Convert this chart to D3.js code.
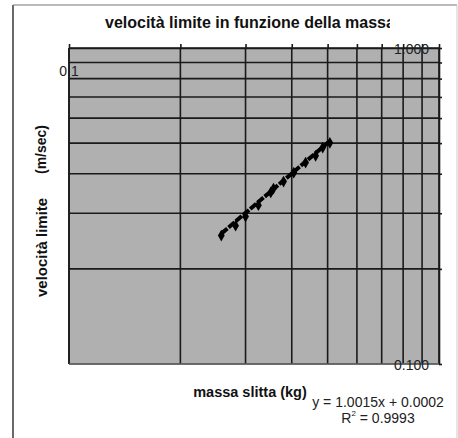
<!DOCTYPE html>
<html>
<head>
<meta charset="utf-8">
<script src="https://cdn.jsdelivr.net/npm/d3@7"></script>
<style>
  html, body { margin: 0; padding: 0; background: #fff; }
  svg { display: block; font-family: "Liberation Sans", Arial, sans-serif; }
</style>
</head>
<body>
<svg id="chart" width="458" height="438"></svg>
<script>
// Measured sled runs: mass (kg) and terminal velocity (m/sec)
const masses     = [0.258, 0.282, 0.300, 0.325, 0.351, 0.357, 0.380, 0.405, 0.436, 0.464, 0.485, 0.507];
const velocities = [0.255, 0.274, 0.293, 0.318, 0.349, 0.359, 0.378, 0.403, 0.434, 0.456, 0.484, 0.501];

// Linear trendline coefficients
const slope = 1.0015, intercept = 0.0002, r2 = 0.9993;

// Axis grid values (one decade each) and their labels
const gridValues = [0.1, 0.2, 0.3, 0.4, 0.5, 0.6, 0.7, 0.8, 0.9, 1.0];
const xTickLabels = [{ v: 0.1, t: "0.1" }];
const yTickLabels = [{ v: 1.0, t: "1.000" }, { v: 0.1, t: "0.100" }];

const svg = d3.select("#chart");

// outer chart frame
svg.append("line").attr("x1", 13).attr("x2", 13).attr("y1", 5).attr("y2", 438)
  .attr("stroke", "#444").attr("stroke-width", 1.6);
svg.append("line").attr("x1", 13).attr("x2", 457).attr("y1", 5).attr("y2", 5)
  .attr("stroke", "#777").attr("stroke-width", 1.2);
svg.append("line").attr("x1", 457).attr("x2", 457).attr("y1", 5).attr("y2", 438)
  .attr("stroke", "#d4d4d4").attr("stroke-width", 1.2);

const plotL = 69, plotR = 439, plotT = 48, plotB = 364;

const x = d3.scaleLog().domain([0.1, 1]).range([plotL, plotR]);
const y = d3.scaleLog().domain([0.1, 1]).range([plotB, plotT]);

// plot area
svg.append("rect")
  .attr("x", plotL).attr("y", plotT)
  .attr("width", plotR - plotL).attr("height", plotB - plotT)
  .attr("fill", "#b0b0b0");

// gridlines
const grid = svg.append("g").attr("stroke", "#1a1a1a").attr("stroke-width", 1.6);
grid.selectAll(".gx").data(gridValues).join("line").attr("class", "gx")
  .attr("x1", d => x(d)).attr("x2", d => x(d))
  .attr("y1", plotT).attr("y2", plotB);
grid.selectAll(".gy").data(gridValues).join("line").attr("class", "gy")
  .attr("x1", plotL).attr("x2", plotR)
  .attr("y1", d => y(d)).attr("y2", d => y(d));

// top axis with outward ticks
svg.append("g")
  .attr("transform", `translate(0,${plotT})`)
  .call(d3.axisTop(x).tickValues(gridValues).tickSize(4).tickSizeOuter(0).tickFormat(""))
  .call(g => g.select(".domain").attr("stroke", "#1a1a1a").attr("stroke-width", 1.6))
  .call(g => g.selectAll(".tick line").attr("stroke", "#1a1a1a").attr("stroke-width", 1.6));

// right axis with outward ticks
svg.append("g")
  .attr("transform", `translate(${plotR},0)`)
  .call(d3.axisRight(y).tickValues(gridValues).tickSize(3).tickSizeOuter(0).tickFormat(""))
  .call(g => g.select(".domain").attr("stroke", "#1a1a1a").attr("stroke-width", 1.6))
  .call(g => g.selectAll(".tick line").attr("stroke", "#1a1a1a").attr("stroke-width", 1.6));

// left and bottom edges of the plot area
svg.append("line").attr("x1", plotL).attr("x2", plotL).attr("y1", plotT).attr("y2", plotB)
  .attr("stroke", "#1a1a1a").attr("stroke-width", 1.6);
svg.append("line").attr("x1", plotL).attr("x2", plotR).attr("y1", plotB).attr("y2", plotB)
  .attr("stroke", "#8a8a8a").attr("stroke-width", 1);

// trendline over the measured range
const xExt = d3.extent(masses);
const trend = xExt.map(m => [m, slope * m + intercept]);
svg.append("path")
  .datum(trend)
  .attr("fill", "none")
  .attr("stroke", "#000")
  .attr("stroke-width", 4)
  .attr("stroke-dasharray", "8,1.5")
  .attr("d", d3.line().x(d => x(d[0])).y(d => y(d[1])));

// data markers
const pts = masses.map((m, i) => [m, velocities[i]]);
svg.append("g").selectAll("path").data(pts).join("path")
  .attr("transform", d => `translate(${x(d[0])},${y(d[1])})`)
  .attr("d", d3.symbol(d3.symbolDiamond, 40))
  .attr("fill", "#000");

// tick labels
svg.append("g").selectAll("text").data(xTickLabels).join("text")
  .attr("x", d => x(d.v)).attr("y", 71)
  .attr("text-anchor", "middle").attr("dominant-baseline", "central")
  .attr("font-size", 14).attr("fill", "#222")
  .text(d => d.t);
svg.append("g").selectAll("text").data(yTickLabels).join("text")
  .attr("x", plotR - 10).attr("y", d => y(d.v) + 0.5)
  .attr("text-anchor", "end").attr("dominant-baseline", "central")
  .attr("font-size", 14).attr("fill", "#222")
  .text(d => d.t);

// title (cut at the right by the chart's title box)
svg.append("clipPath").attr("id", "titleClip")
  .append("rect").attr("x", 0).attr("y", 0).attr("width", 390).attr("height", 40);
svg.append("text")
  .attr("clip-path", "url(#titleClip)")
  .attr("x", 105).attr("y", 22)
  .attr("dominant-baseline", "central")
  .attr("font-size", 16).attr("font-weight", "bold").attr("fill", "#111")
  .text("velocità limite in funzione della massa");

// axis titles
svg.append("text")
  .attr("x", 250).attr("y", 392)
  .attr("text-anchor", "middle").attr("dominant-baseline", "central")
  .attr("font-size", 14.5).attr("font-weight", "bold").attr("fill", "#111")
  .text("massa slitta (kg)");

svg.append("text")
  .attr("transform", "translate(41,297) rotate(-90)")
  .attr("dominant-baseline", "central")
  .attr("font-size", 15).attr("font-weight", "bold").attr("fill", "#111")
  .text("velocità limite");
svg.append("text")
  .attr("transform", "translate(41,125) rotate(-90)")
  .attr("text-anchor", "end").attr("dominant-baseline", "central")
  .attr("font-size", 14).attr("font-weight", "bold").attr("fill", "#111")
  .text("(m/sec)");

// trendline equation and fit quality
svg.append("text")
  .attr("x", 378).attr("y", 402)
  .attr("text-anchor", "middle").attr("dominant-baseline", "central")
  .attr("font-size", 14).attr("fill", "#222")
  .text(`y = ${slope.toFixed(4)}x + ${intercept.toFixed(4)}`);
const r2Text = svg.append("text")
  .attr("x", 378).attr("y", 418)
  .attr("text-anchor", "middle").attr("dominant-baseline", "central")
  .attr("font-size", 14).attr("fill", "#222");
r2Text.append("tspan").text("R");
r2Text.append("tspan").attr("font-size", 8).attr("dy", -5).text("2");
r2Text.append("tspan").attr("dy", 5).text(` = ${r2.toFixed(4)}`);
</script>
</body>
</html>
